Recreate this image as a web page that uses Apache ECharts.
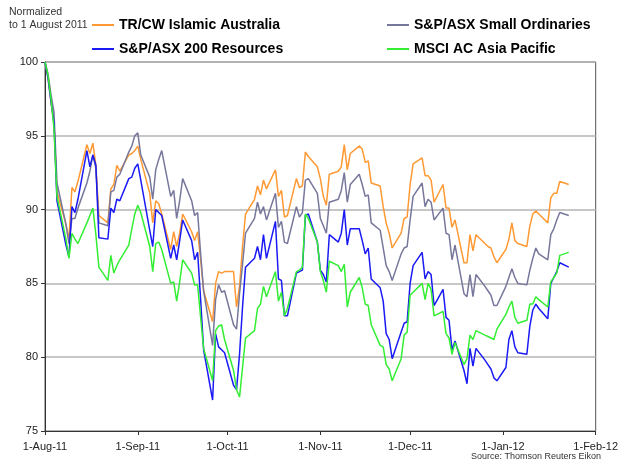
<!DOCTYPE html>
<html>
<head>
<meta charset="utf-8">
<script src="https://cdn.jsdelivr.net/npm/echarts@6.0.0/dist/echarts.min.js"></script>
<style>
  html, body { margin: 0; padding: 0; background: #fff; }
  #chart { width: 621px; height: 460px; }
</style>
</head>
<body>
<div id="chart"></div>
<script>
// trading days, 1 Aug 2011 - 23 Jan 2012
var dates = [
  '2011-08-01','2011-08-02','2011-08-03','2011-08-04','2011-08-05',
  '2011-08-08','2011-08-09','2011-08-10','2011-08-11','2011-08-12',
  '2011-08-15','2011-08-16','2011-08-17','2011-08-18','2011-08-19',
  '2011-08-22','2011-08-23','2011-08-24','2011-08-25','2011-08-26',
  '2011-08-29','2011-08-30','2011-08-31','2011-09-01','2011-09-02',
  '2011-09-05','2011-09-06','2011-09-07','2011-09-08','2011-09-09',
  '2011-09-12','2011-09-13','2011-09-14','2011-09-15','2011-09-16',
  '2011-09-19','2011-09-20','2011-09-21','2011-09-22','2011-09-23',
  '2011-09-26','2011-09-27','2011-09-28','2011-09-29','2011-09-30',
  '2011-10-03','2011-10-04','2011-10-05','2011-10-06','2011-10-07',
  '2011-10-10','2011-10-11','2011-10-12','2011-10-13','2011-10-14',
  '2011-10-17','2011-10-18','2011-10-19','2011-10-20','2011-10-21',
  '2011-10-24','2011-10-25','2011-10-26','2011-10-27','2011-10-28',
  '2011-10-31','2011-11-01','2011-11-02','2011-11-03','2011-11-04',
  '2011-11-07','2011-11-08','2011-11-09','2011-11-10','2011-11-11',
  '2011-11-14','2011-11-15','2011-11-16','2011-11-17','2011-11-18',
  '2011-11-21','2011-11-22','2011-11-23','2011-11-24','2011-11-25',
  '2011-11-28','2011-11-29','2011-11-30','2011-12-01','2011-12-02',
  '2011-12-05','2011-12-06','2011-12-07','2011-12-08','2011-12-09',
  '2011-12-12','2011-12-13','2011-12-14','2011-12-15','2011-12-16',
  '2011-12-19','2011-12-20','2011-12-21','2011-12-22','2011-12-23',
  '2011-12-26','2011-12-27','2011-12-28','2011-12-29','2011-12-30',
  '2012-01-02','2012-01-03','2012-01-04','2012-01-05','2012-01-06',
  '2012-01-09','2012-01-10','2012-01-11','2012-01-12','2012-01-13',
  '2012-01-16','2012-01-17','2012-01-18','2012-01-19','2012-01-20',
  '2012-01-23'
];

var islamicAus = [
  100, 99.0, 97.3, 95.8, 91.2,   89.0, 88.0, 91.5, 91.2, 91.9,
  94.4, 93.8, 94.5, 93.0, 89.6,  89.1, 91.4, 91.7, 93.0, 92.6,
  93.7, 93.8, 94.0, 94.3, 93.4,  91.1, 89.1, 90.6, 90.4, 89.7,
  87.3, 88.5, 87.5, 88.4, 89.7,  88.5, 87.9, 88.5, 86.6, 84.5,
  82.4, 85.0, 85.8, 85.7, 85.8,  85.8, 83.4, 84.8, 87.5, 89.7,
  90.7, 91.6, 91.0, 92.0, 91.4,  92.7, 90.9, 91.3, 89.5, 89.6,
  92.1, 91.5, 91.6, 93.9, 93.6,  92.9, 92.1, 90.9, 90.3, 92.4,
  92.6, 92.9, 94.4, 92.7, 93.8,  94.3, 94.1, 93.2, 93.3, 91.8,
  91.6, 90.2, 89.1, 88.4, 87.4,  88.4, 89.4, 89.5, 91.7, 93.1,
  93.5, 92.3, 92.3, 92.0, 90.5,  91.7, 90.1, 90.1, 88.8, 89.3,
  86.4, 86.4, 88.3, 87.2, 88.3,  87.7, 87.5, 87.4, 86.8, 86.4,
  87.3, 88.0, 89.1, 87.9, 87.7,  87.5, 88.9, 89.7, 89.9, 89.7,
  89.1, 90.8, 91.1, 91.1, 91.9,  91.7
];

var smallOrds = [
  100, 99.2, 97.8, 96.6, 91.8,   89.0, 87.7, 89.4, 89.4, 90.1,
  91.8, 92.6, 93.7, 92.8, 89.1,  88.9, 91.2, 91.3, 92.2, 92.4,
  93.9, 94.3, 95.0, 95.2, 93.7,  92.2, 90.7, 92.7, 93.4, 94.0,
  90.9, 91.3, 89.4, 90.6, 92.1,  90.6, 89.6, 89.8, 87.0, 84.5,
  80.8, 83.9, 84.9, 84.4, 84.5,  82.2, 81.9, 84.3, 86.3, 88.4,
  89.4, 90.5, 89.7, 90.2, 89.3,  91.1, 88.8, 89.2, 87.8, 87.7,
  90.2, 89.5, 89.8, 92.0, 92.1,  91.1, 89.4, 88.9, 88.4, 90.5,
  90.7, 91.3, 92.5, 90.5, 91.7,  92.4, 91.7, 90.9, 91.0, 89.1,
  88.6, 87.4, 86.2, 85.8, 85.2,  87.0, 87.4, 87.5, 89.3, 90.9,
  91.8, 90.2, 90.7, 90.5, 89.3,  90.1, 88.4, 88.3, 86.6, 87.6,
  84.3, 84.1, 85.6, 84.1, 85.6,  84.8, 84.5, 84.2, 83.5, 83.5,
  84.8, 85.4, 86.0, 85.4, 85.0,  84.9, 85.9, 86.7, 87.4, 87.0,
  86.6, 88.3, 88.7, 89.3, 89.8,  89.6
];

var resources200 = [
  100, 98.9, 97.3, 95.9, 90.6,   87.6, 86.8, 90.2, 89.8, 90.7,
  94.0, 92.9, 93.7, 93.0, 88.1,  88.0, 90.1, 89.8, 90.7, 90.6,
  92.1, 92.2, 92.8, 93.1, 92.0,  88.6, 87.5, 90.0, 89.8, 89.6,
  86.7, 87.6, 86.6, 87.9, 89.3,  87.9, 86.6, 87.1, 83.9, 80.5,
  77.1, 81.6, 80.7, 80.5, 80.3,  78.1, 77.8, 80.2, 83.4, 86.1,
  86.7, 87.5, 86.6, 88.3, 86.7,  89.2, 85.3, 85.2, 82.8, 82.8,
  85.7, 85.8, 85.9, 89.6, 89.7,  87.8, 85.9, 85.6, 85.1, 88.3,
  87.8, 88.4, 90.0, 87.6, 88.7,  88.7, 87.9, 87.0, 87.4, 85.3,
  84.7, 83.8, 81.6, 81.2, 79.9,  81.7, 82.3, 82.4, 85.0, 86.2,
  87.1, 85.3, 85.8, 85.6, 83.5,  84.6, 82.7, 82.5, 80.5, 81.1,
  79.1, 78.2, 80.6, 79.4, 80.6,  79.8, 79.5, 79.2, 78.6, 78.4,
  79.3, 81.2, 81.8, 80.7, 80.3,  80.2, 82.1, 83.2, 83.6, 83.3,
  82.6, 85.0, 85.4, 85.8, 86.4,  86.1
];

var msciAsiaPac = [
  100, 99.1, 97.5, 95.5, 90.9,   88.0, 86.7, 88.4, 88.0, 87.7,
  89.1, 89.6, 90.1, 88.3, 86.1,  85.2, 86.9, 85.7, 86.2, 86.6,
  87.6, 88.7, 89.7, 90.3, 89.8,  87.5, 85.8, 87.7, 87.8, 87.3,
  85.0, 85.1, 83.8, 85.1, 86.6,  85.7, 84.9, 84.9, 82.7, 80.6,
  78.4, 81.8, 82.1, 82.2, 81.2,  79.1, 77.8, 77.3, 79.3, 81.3,
  81.8, 83.3, 83.6, 84.8, 84.1,  85.8, 83.8, 84.4, 82.8, 83.3,
  85.8, 85.9, 86.1, 89.7, 89.4,  87.8, 85.8, 85.2, 84.4, 86.5,
  86.2, 85.8, 86.3, 83.4, 84.4,  85.4, 84.7, 83.6, 83.5, 82.2,
  80.8, 80.7, 79.5, 79.2, 78.4,  79.9, 81.5, 81.7, 84.2, 84.4,
  85.0, 83.9, 85.0, 84.6, 82.8,  83.1, 81.6, 81.3, 80.2, 81.0,
  79.5, 79.9, 81.5, 81.2, 81.8,  81.5, 81.4, 81.3, 81.2, 81.9,
  82.9, 83.4, 83.8, 82.7, 82.3,  82.5, 83.6, 83.6, 84.1, 83.9,
  83.4, 85.1, 85.4, 85.7, 86.9,  87.1
];

var seriesNames = ['TR/CW Islamic Australia', 'S&P/ASX Small Ordinaries', 'S&P/ASX 200 Resources', 'MSCI AC Asia Pacific'];
var seriesColors = ['#FF9933', '#77779C', '#1A1AF5', '#33EE33'];
var seriesValues = [islamicAus, smallOrds, resources200, msciAsiaPac];
var yTicks = [75, 80, 85, 90, 95, 100];
var monthNames = ['Jan','Feb','Mar','Apr','May','Jun','Jul','Aug','Sep','Oct','Nov','Dec'];

var font = '"Liberation Sans", Arial, sans-serif';

function pairs(vals) {
  var out = [];
  for (var i = 0; i < dates.length; i++) {
    out.push([dates[i], vals[i]]);
  }
  return out;
}

function drawChart() {
  var dom = document.getElementById('chart');
  var myChart = echarts.init(dom, null, { renderer: 'canvas' });

  var legendPos = [[92, 18], [387, 18], [92, 42], [387, 42]];
  var legends = [];
  var series = [];
  for (var i = 0; i < seriesNames.length; i++) {
    legends.push({
      data: [seriesNames[i]],
      left: legendPos[i][0],
      top: legendPos[i][1],
      padding: 0,
      icon: 'rect',
      itemWidth: 22,
      itemHeight: 2,
      selectedMode: false,
      textStyle: { fontFamily: font, fontSize: 14, fontWeight: 'bold', color: '#000' }
    });
    series.push({
      name: seriesNames[i],
      type: 'line',
      data: pairs(seriesValues[i]),
      showSymbol: false,
      symbol: 'none',
      color: seriesColors[i],
      lineStyle: { width: 1.5, color: seriesColors[i] }
    });
  }

  var option = {
    animation: false,
    backgroundColor: '#fff',
    title: {
      text: 'Normalized\nto 1 August 2011',
      left: 9,
      top: 6,
      padding: 0,
      textStyle: { fontFamily: font, fontSize: 10.5, fontWeight: 'normal', color: '#333', lineHeight: 13 }
    },
    legend: legends,
    grid: {
      left: 45, right: 22, top: 62, bottom: 29,
      show: true, borderColor: '#555', borderWidth: 1
    },
    xAxis: {
      type: 'time',
      min: '2011-08-01',
      max: '2012-02-01',
      splitNumber: 6,
      minInterval: 28 * 86400000,
      maxInterval: 31 * 86400000,
      axisLine: { lineStyle: { color: '#333', width: 1 } },
      axisTick: { show: true, length: 4, lineStyle: { color: '#333' } },
      splitLine: { show: false },
      axisLabel: {
        fontFamily: font, fontSize: 11, color: '#222', margin: 10,
        showMinLabel: true, showMaxLabel: true,
        formatter: function (v) {
          var d = new Date(v);
          return d.getDate() + '-' + monthNames[d.getMonth()] + '-' + String(d.getFullYear()).slice(2);
        }
      }
    },
    yAxis: {
      type: 'value',
      min: yTicks[0],
      max: yTicks[yTicks.length - 1],
      interval: 5,
      axisLine: { show: true, lineStyle: { color: '#333', width: 1 } },
      axisTick: { show: true, length: 4, lineStyle: { color: '#333' } },
      splitLine: { show: true, lineStyle: { color: '#b4b4b4', width: 1.5 } },
      axisLabel: { fontFamily: font, fontSize: 11, color: '#222', margin: 7 }
    },
    graphic: [{
      type: 'text',
      right: 20,
      top: 452,
      style: { text: 'Source: Thomson Reuters Eikon', font: '9px ' + font, fill: '#333' }
    }],
    series: series
  };

  if (option && typeof option === 'object') {
    myChart.setOption(option, true);
  }
}

drawChart();
</script>
</body>
</html>
